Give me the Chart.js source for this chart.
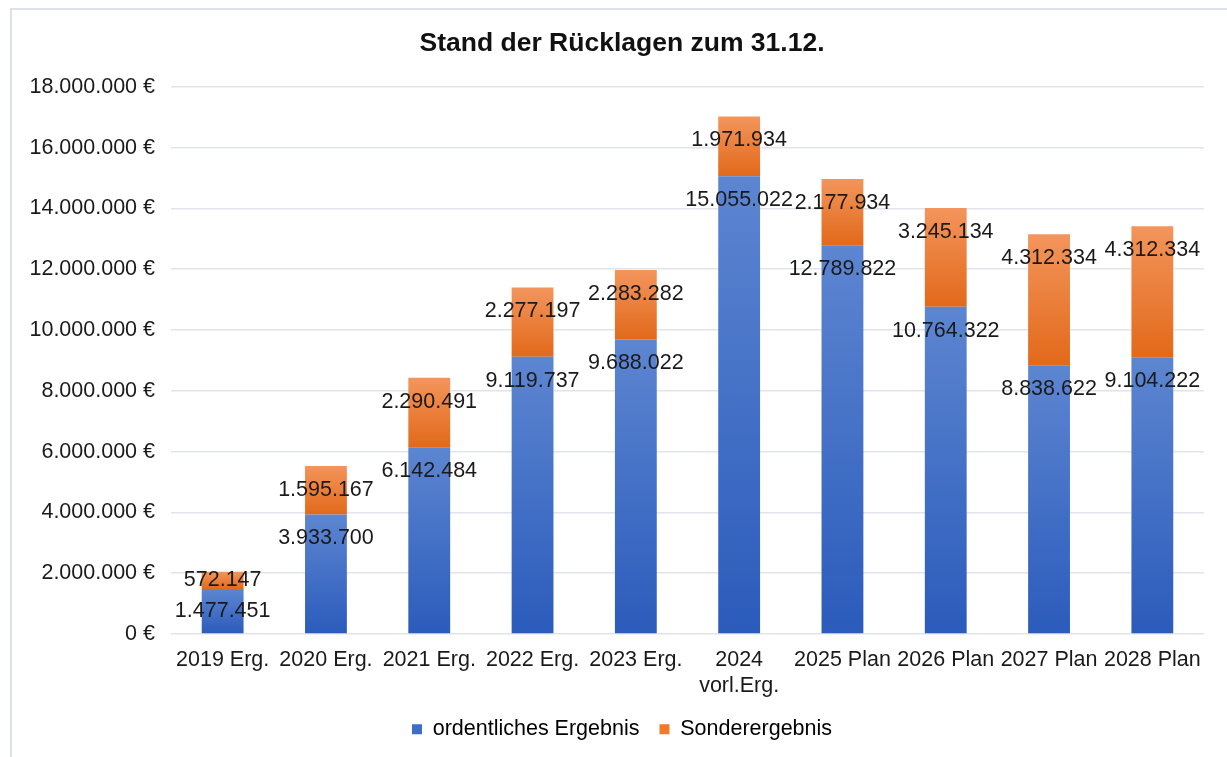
<!DOCTYPE html>
<html lang="de">
<head>
<meta charset="utf-8">
<title>Stand der Rücklagen zum 31.12.</title>
<script src="https://cdn.jsdelivr.net/npm/chart.js@4.4.1/dist/chart.umd.min.js"></script>
<style>
    html, body { margin: 0; padding: 0; background: #fff; overflow: hidden; }
    #frame {
        position: absolute; left: 10px; top: 8px;
        width: 1400px; height: 900px;
        border: 2px solid #dde1e8;
    }
    #wrap { position: absolute; left: 0; top: 0; width: 1244px; height: 757px; }
</style>
</head>
<body>
<div id="frame"></div>
<div id="wrap"><canvas id="reserveChart" width="1244" height="757"></canvas></div>
<script>
// Kategorien und Werte
const categories = ['2019 Erg.', '2020 Erg.', '2021 Erg.', '2022 Erg.', '2023 Erg.',
    ['2024', 'vorl.Erg.'], '2025 Plan', '2026 Plan', '2027 Plan', '2028 Plan'];
const ordentlichesErgebnis = [1477451, 3933700, 6142484, 9119737, 9688022,
    15055022, 12789822, 10764322, 8838622, 9104222];
const sonderergebnis = [572147, 1595167, 2290491, 2277197, 2283282,
    1971934, 2177934, 3245134, 4312334, 4312334];
const seriesNames = ['ordentliches Ergebnis', 'Sonderergebnis'];
const yMax = 18000000;
const yStep = 2000000;

const FONT = '"Liberation Sans", Arial, sans-serif';

// Zahl im deutschen Format: 1.477.451
function formatDe(n) {
    return String(Math.round(n)).replace(/\B(?=(\d{3})+(?!\d))/g, '.');
}

// Verlauf je Balkensegment (oben heller, unten dunkler)
function segmentGradient(context, lower, upper, topColor, bottomColor, flat) {
    const chart = context.chart;
    if (!chart.chartArea || context.dataIndex === undefined) return flat;
    const i = context.dataIndex;
    const y = chart.scales.y;
    const yTop = y.getPixelForValue(lower[i] + upper[i]);
    const yBottom = y.getPixelForValue(lower[i]);
    if (!isFinite(yTop) || !isFinite(yBottom) || yTop === yBottom) return flat;
    const g = chart.ctx.createLinearGradient(0, yTop, 0, yBottom);
    g.addColorStop(0, topColor);
    g.addColorStop(1, bottomColor);
    return g;
}

const zeros = ordentlichesErgebnis.map(() => 0);

// Datenbeschriftungen innen oben im Segment
const valueLabels = {
    id: 'valueLabels',
    afterDatasetsDraw(chart) {
        const ctx = chart.ctx;
        ctx.save();
        ctx.font = '21.5px ' + FONT;
        ctx.fillStyle = '#1a1a1a';
        ctx.textAlign = 'center';
        ctx.textBaseline = 'middle';
        chart.data.datasets.forEach((ds, d) => {
            chart.getDatasetMeta(d).data.forEach((bar, i) => {
                const h = bar.base - bar.y;
                const ty = h > 46 ? bar.y + 24 : (bar.y + bar.base) / 2;
                ctx.fillText(formatDe(ds.data[i]), bar.x, ty);
            });
        });
        ctx.restore();
    }
};

const ctx = document.getElementById('reserveChart').getContext('2d');
new Chart(ctx, {
    type: 'bar',
    data: {
        labels: categories,
        datasets: [
            {
                label: seriesNames[0],
                data: ordentlichesErgebnis,
                backgroundColor: c => segmentGradient(c, zeros, ordentlichesErgebnis, '#5d86d1', '#2b5bbb', '#4472c4'),
                categoryPercentage: 1,
                barPercentage: 0.405
            },
            {
                label: seriesNames[1],
                data: sonderergebnis,
                backgroundColor: c => segmentGradient(c, ordentlichesErgebnis, sonderergebnis, '#f3955c', '#e2691a', '#ed7d31'),
                categoryPercentage: 1,
                barPercentage: 0.405
            }
        ]
    },
    options: {
        responsive: false,
        animation: false,
        devicePixelRatio: 1,
        layout: { padding: { left: 0, right: 0, top: 9, bottom: 7 } },
        plugins: {
            title: {
                display: true,
                text: 'Stand der Rücklagen zum 31.12.',
                color: '#111',
                font: { family: FONT, size: 26.5, weight: 'bold' },
                padding: { top: 19, bottom: 27 }
            },
            legend: {
                position: 'bottom',
                labels: {
                    color: '#1a1a1a',
                    font: { family: FONT, size: 21.5 },
                    boxWidth: 10,
                    boxHeight: 10,
                    padding: 20,
                    generateLabels: chart => seriesNames.map((name, i) => ({
                        text: name,
                        fillStyle: i === 0 ? '#3e6cc6' : '#ee7b2b',
                        strokeStyle: 'rgba(0,0,0,0)',
                        lineWidth: 0,
                        datasetIndex: i
                    }))
                }
            },
            tooltip: { enabled: false }
        },
        scales: {
            x: {
                stacked: true,
                grid: { display: false },
                border: { display: false },
                ticks: {
                    color: '#1a1a1a',
                    font: { family: FONT, size: 21.5 },
                    maxRotation: 0,
                    autoSkip: false,
                    padding: 5
                },
                afterFit: scale => { scale.height = 64.5; }
            },
            y: {
                stacked: true,
                min: 0,
                max: yMax,
                grid: { color: '#e1e4eb', lineWidth: 1.6, drawTicks: false },
                border: { display: false },
                ticks: {
                    stepSize: yStep,
                    color: '#1a1a1a',
                    font: { family: FONT, size: 21.5 },
                    padding: 16,
                    callback: v => formatDe(v) + ' €'
                },
                afterFit: scale => { scale.width = 171; }
            },
            // leere rechte Achse als Randabstand rechts
            yRight: {
                position: 'right',
                display: true,
                grid: { display: false },
                border: { display: false },
                ticks: { display: false },
                afterFit: scale => { scale.width = 40; }
            }
        }
    },
    plugins: [valueLabels]
});
</script>
</body>
</html>
